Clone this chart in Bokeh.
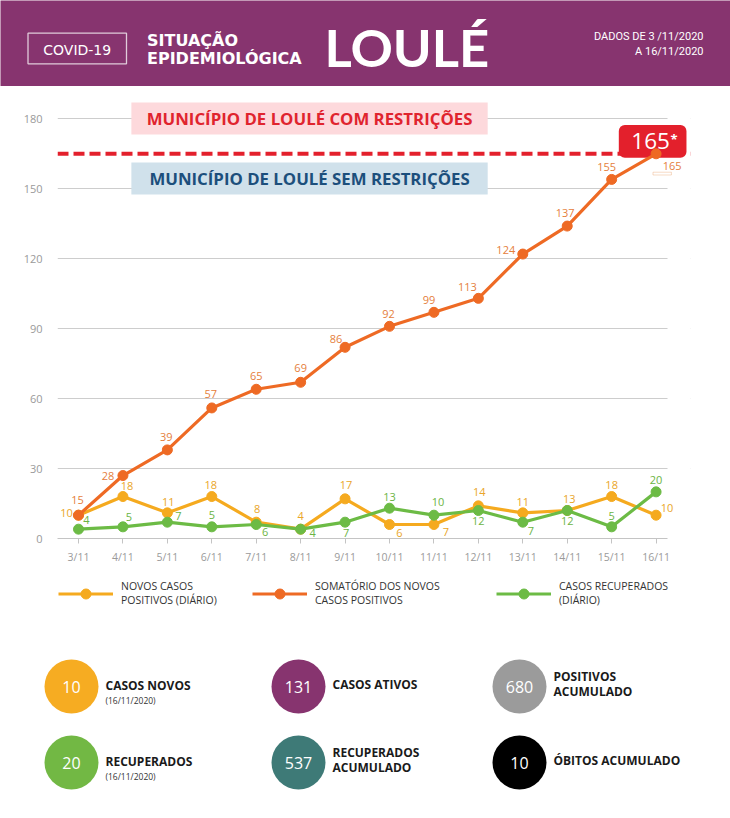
from bokeh.plotting import figure
from bokeh.models import (Range1d, FixedTicker, Span, BoxAnnotation, Label, LabelSet,
                          ColumnDataSource, Legend, LegendItem)
from bokeh.core.properties import value
from bokeh.embed import file_html
from bokeh.resources import INLINE

# ---------------- data ----------------
dates = ["3/11", "4/11", "5/11", "6/11", "7/11", "8/11", "9/11", "10/11",
         "11/11", "12/11", "13/11", "14/11", "15/11", "16/11"]
novos = [10, 18, 11, 18, 7, 4, 17, 6, 6, 14, 11, 12, 18, 10]
novos_labels = ["10", "18", "11", "18", "8", "4", "17", "6", "7", "14", "11", "13", "18", "10"]
somatorio = [10, 27, 38, 56, 64, 67, 82, 91, 97, 103, 122, 134, 154, 165]
somatorio_labels = ["15", "28", "39", "57", "65", "69", "86", "92", "99", "113", "124", "137", "155", "165"]
recuperados = [4, 5, 7, 5, 6, 4, 7, 13, 10, 12, 7, 12, 5, 20]
recuperados_labels = ["4", "5", "7", "5", "6", "4", "7", "13", "10", "12", "7", "12", "5", "20"]
y_ticks = [0, 30, 60, 90, 120, 150, 180]
limite = 165
limite_label = "165"

series_names = ["NOVOS CASOS\nPOSITIVOS (DIÁRIO)",
                "SOMATÓRIO DOS NOVOS\nCASOS POSITIVOS",
                "CASOS RECUPERADOS\n(DIÁRIO)"]

kpi_values = ["10", "131", "680", "20", "537", "10"]
kpi_titles = [["CASOS NOVOS"], ["CASOS ATIVOS"], ["POSITIVOS", "ACUMULADO"],
              ["RECUPERADOS"], ["RECUPERADOS", "ACUMULADO"], ["ÓBITOS ACUMULADO"]]
kpi_notes = ["(16/11/2020)", "", "", "(16/11/2020)", "", ""]

# ---------------- styles / layout ----------------
PURPLE = "#87346F"
YELLOW = "#F5AA1F"
ORANGE = "#EE6A24"
GREEN = "#6CBB45"
RED = "#E3202C"
series_colors = [YELLOW, ORANGE, GREEN]
kpi_colors = ["#F6AC22", "#87346F", "#9B9B9B", "#72B844", "#3E7A77", "#000000"]

FONT = "Open Sans"
W = 730

# label offsets (screen px, dx, dy up)
off_soma = [(-1, 15), (-15, 0), (-1, 13), (-1, 14), (0, 13), (0, 14), (-9, 8), (-1, 12),
            (-5, 12), (-11, 11), (-17, 4), (-2, 13), (-5, 12), (16, -12)]
off_novos = [(-12, 2), (4, 11), (1, 11), (-1, 12), (1, 13), (0, 13), (1, 14), (10, -8),
             (12, -7), (1, 14), (0, 11), (2, 12), (0, 12), (11, 7)]
off_rec = [(8, 9), (6, 10), (11, 6), (0, 12), (9, -7), (12, -4), (1, -11), (0, 11),
           (4, 13), (0, -10), (8, -9), (0, -10), (0, 11), (0, 12)]

# ---------------- header ----------------
hdr = figure(width=W, height=86, x_range=Range1d(0, W), y_range=Range1d(86, 0),
             toolbar_location=None, output_backend="svg",
             x_axis_location=None, y_axis_location=None, min_border=0,
             outline_line_color=None, background_fill_color=PURPLE, border_fill_color=PURPLE)
hdr.grid.visible = False
hdr.add_layout(BoxAnnotation(left=27.5, right=126, top=32.7, bottom=63.3, fill_alpha=0,
                             line_color="white", line_alpha=0.75, line_width=1.3))
hdr.text(x=[76.7], y=[49.3], text=["COVID-19"], text_align="center", text_baseline="middle",
         text_color="white", text_font=value("DejaVu Sans"), text_font_size="14px")
hdr.text(x=[146.5, 146.5], y=[39.5, 57.5], text=["SITUAÇÃO", "EPIDEMIOLÓGICA"], text_align="left",
         text_baseline="middle", text_color="white", text_font=value("DejaVu Sans"),
         text_font_style="bold", text_font_size="16px")
hdr.text(x=[324], y=[46], text=["LOULÉ"], text_align="left", text_baseline="middle",
         text_color="white", text_font=value("Lato"), text_font_style="bold",
         text_font_size="52.5px")
hdr.text(x=[703, 703], y=[35.5, 50.5], text=["DADOS DE 3 /11/2020", "A 16/11/2020"],
         text_align="right", text_baseline="middle", text_color="white",
         text_font=value("Roboto"), text_font_size="11px")

# ---------------- chart ----------------
n = len(dates)
xs = list(range(n))
GRID_END = 13.257
p = figure(width=W, height=489, x_range=Range1d(-0.4727, 13.7747), y_range=Range1d(0, 190),
           toolbar_location=None, output_backend="svg",
           min_border_left=57, min_border_right=40, min_border_top=9, min_border_bottom=37,
           outline_line_color=None, background_fill_color="white", border_fill_color="white")

p.xaxis.ticker = FixedTicker(ticks=xs)
p.xaxis.major_label_overrides = {i: d for i, d in enumerate(dates)}
p.xaxis.bounds = (-0.4727, GRID_END)
p.xaxis.axis_line_color = "#c4c4c4"
p.xaxis.major_tick_line_color = "#c4c4c4"
p.xaxis.major_tick_out = 5
p.xaxis.major_tick_in = 0
p.xaxis.minor_tick_line_color = None
p.xaxis.major_label_standoff = 6
p.xaxis.major_label_text_font_size = "10.5px"
p.yaxis.ticker = FixedTicker(ticks=y_ticks)
p.yaxis.axis_line_color = None
p.yaxis.major_tick_line_color = None
p.yaxis.minor_tick_line_color = None
p.yaxis.major_label_standoff = 9
p.yaxis.major_label_text_font_size = "11px"
for ax in (p.xaxis, p.yaxis):
    ax.major_label_text_font = FONT
    ax.major_label_text_color = "#9a9a9a"
p.xgrid.visible = False
p.ygrid.grid_line_color = "#cdcdcd"
p.ygrid.grid_line_width = 1

# zone boxes
p.add_layout(BoxAnnotation(left=1.19, right=9.21, bottom=173.3, top=187.0, fill_color="#FDD9DC",
                           fill_alpha=1, line_color=None, level="underlay"))
p.add_layout(BoxAnnotation(left=1.19, right=9.21, bottom=147.5, top=161.3, fill_color="#D0E1EB",
                           fill_alpha=1, line_color=None, level="underlay"))
p.add_layout(Span(location=limite, dimension="width", line_color=RED, line_width=4,
                  line_dash="11 5", level="underlay"))
# hide grid beyond last category
p.add_layout(BoxAnnotation(left=GRID_END, fill_color="white", fill_alpha=1, line_color=None,
                           level="underlay"))
# red badge for the limit
p.add_layout(BoxAnnotation(left=12.161, right=13.684, bottom=163.3, top=177.4, fill_color=RED,
                           fill_alpha=1, line_color=None, border_radius=6, level="underlay"))
# double underline under last total label
p.add_layout(BoxAnnotation(left=12.93, right=13.345, bottom=155.9, top=157.1, fill_alpha=0,
                           line_color="#E0863F", line_width=1, level="underlay"))
p.add_layout(Label(x=5.2, y=180.15, text="MUNICÍPIO DE LOULÉ COM RESTRIÇÕES", text_align="center",
                   text_baseline="middle", text_color="#E0242E", text_font=FONT,
                   text_font_style="bold", text_font_size="16.8px"))
p.add_layout(Label(x=5.2, y=154.4, text="MUNICÍPIO DE LOULÉ SEM RESTRIÇÕES", text_align="center",
                   text_baseline="middle", text_color="#1C4F7C", text_font=FONT,
                   text_font_style="bold", text_font_size="16.8px"))
p.add_layout(Label(x=xs[-1], y=limite, x_offset=-5.5, y_offset=13, text=limite_label,
                   text_align="center", text_baseline="middle", text_color="white",
                   text_font=FONT, text_font_size="22.5px"))
p.add_layout(Label(x=xs[-1], y=limite, x_offset=18, y_offset=15, text="*",
                   text_align="center", text_baseline="middle", text_color="white",
                   text_font=FONT, text_font_size="13px", text_font_style="bold"))

src = ColumnDataSource(dict(
    x=xs, novos=novos, soma=somatorio, rec=recuperados,
    novos_l=novos_labels, soma_l=somatorio_labels, rec_l=recuperados_labels,
    ndx=[o[0] for o in off_novos], ndy=[o[1] for o in off_novos],
    sdx=[o[0] for o in off_soma], sdy=[o[1] for o in off_soma],
    rdx=[o[0] for o in off_rec], rdy=[o[1] for o in off_rec],
))

p.line("x", "novos", source=src, line_color=YELLOW, line_width=3.2)
p.scatter("x", "novos", source=src, size=10, fill_color=YELLOW, line_color=YELLOW)
p.line("x", "rec", source=src, line_color=GREEN, line_width=3.2)
p.scatter("x", "rec", source=src, size=10, fill_color=GREEN, line_color=GREEN)
p.line("x", "soma", source=src, line_color=ORANGE, line_width=3.2)
p.scatter("x", "soma", source=src, size=10, fill_color=ORANGE, line_color=ORANGE)

for ycol, tcol, dx, dy, col in [("novos", "novos_l", "ndx", "ndy", "#EAA628"),
                                 ("rec", "rec_l", "rdx", "rdy", "#6BB443"),
                                 ("soma", "soma_l", "sdx", "sdy", "#E5803C")]:
    p.add_layout(LabelSet(x="x", y=ycol, text=tcol, x_offset=dx, y_offset=dy, source=src,
                          text_align="center", text_baseline="middle", text_color=col,
                          text_font=value(FONT), text_font_size="11px"))

# ---------------- legend strip ----------------
lf = figure(width=W, height=55, x_range=Range1d(0, 1), y_range=Range1d(0, 1),
            toolbar_location=None, output_backend="svg",
            x_axis_location=None, y_axis_location=None, min_border=0,
            outline_line_color=None, background_fill_color="white", border_fill_color="white")
lf.grid.visible = False
legend_x = [58, 252, 496]
for nm, col, lx in zip(series_names, series_colors, legend_x):
    # off-screen placeholders: only their styles are used by the legend swatch
    r1 = lf.line(x=[0, 1], y=[-5, -5], line_color=col, line_width=3.2)
    r2 = lf.scatter(x=[0], y=[-5], size=10, fill_color=col, line_color=col)
    leg = Legend(items=[LegendItem(label=nm, renderers=[r1, r2])], location=(lx, 23),
                 orientation="vertical", padding=0, margin=0, border_line_color=None,
                 background_fill_alpha=0, glyph_width=55, glyph_height=25, label_standoff=8,
                 label_text_font=FONT, label_text_font_size="10.5px",
                 label_text_color="#333333", label_text_line_height=1.1)
    lf.add_layout(leg)

# ---------------- KPI circles ----------------
kpi_col_x = [71, 298, 519]
kpi_row_y = [686, 762]
kx = [kpi_col_x[i % 3] for i in range(len(kpi_values))]
ky = [kpi_row_y[i // 3] for i in range(len(kpi_values))]

kp = figure(width=W, height=170, x_range=Range1d(0, W), y_range=Range1d(800, 630),
            toolbar_location=None, output_backend="svg",
            x_axis_location=None, y_axis_location=None, min_border=0,
            outline_line_color=None, background_fill_color="white", border_fill_color="white")
kp.grid.visible = False
ksrc = ColumnDataSource(dict(x=kx, y=ky, color=kpi_colors, v=kpi_values))
kp.scatter("x", "y", source=ksrc, size=54, fill_color="color", line_color=None)
kp.text("x", "y", text="v", source=ksrc, text_align="center", text_baseline="middle",
        text_color="white", text_font=value(FONT), text_font_size="16px")

tx, ty, tt = [], [], []
nx, ny, nt = [], [], []
for i, lines in enumerate(kpi_titles):
    cx, cy = kx[i], ky[i]
    if kpi_notes[i]:
        ys = [cy - 1]
        nx.append(cx + 34); ny.append(cy + 14); nt.append(kpi_notes[i])
    elif len(lines) == 2:
        ys = [cy - 10, cy + 4.5]
    else:
        ys = [cy - 2]
    for line, yy in zip(lines, ys):
        tx.append(cx + 34); ty.append(yy); tt.append(line)
kp.text(x=tx, y=ty, text=tt, text_align="left", text_baseline="middle", text_color="#1a1a1a",
        text_font=value(FONT), text_font_style="bold", text_font_size="12px")
kp.text(x=nx, y=ny, text=nt, text_align="left", text_baseline="middle", text_color="#333333",
        text_font=value(FONT), text_font_size="8.5px")

open("out.html", "w").write(file_html([hdr, p, lf, kp], INLINE))
